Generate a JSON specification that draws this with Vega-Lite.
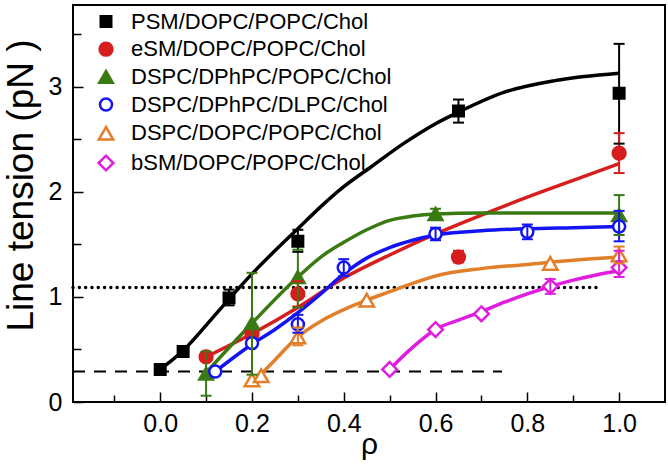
{
  "$schema": "https://vega.github.io/schema/vega-lite/v6.json",
  "width": 592,
  "height": 397,
  "autosize": {"type": "none"},
  "padding": {"left": 73, "top": 5, "right": 3, "bottom": 64},
  "background": "white",
  "config": {
    "font": "Liberation Sans",
    "view": {"stroke": "black", "strokeWidth": 2},
    "axis": {"domain": false, "grid": false, "tickColor": "black", "labelColor": "black", "titleColor": "black", "labelFont": "Liberation Sans", "titleFont": "Liberation Sans", "titleFontWeight": "normal"},
    "legend": {"labelFont": "Liberation Sans", "labelFontSize": 22, "labelColor": "black", "rowPadding": 4.7, "symbolStrokeWidth": 2.5, "labelOffset": 14, "padding": 0, "labelLimit": 400}
  },
  "datasets": {
    "pts": [
      {"s": "PSM/DOPC/POPC/Chol", "x": 0.0, "y": 0.31},
      {"s": "PSM/DOPC/POPC/Chol", "x": 0.05, "y": 0.48},
      {"s": "PSM/DOPC/POPC/Chol", "x": 0.15, "y": 0.99, "lo": 0.92, "hi": 1.07},
      {"s": "PSM/DOPC/POPC/Chol", "x": 0.3, "y": 1.53, "lo": 1.43, "hi": 1.64},
      {"s": "PSM/DOPC/POPC/Chol", "x": 0.65, "y": 2.77, "lo": 2.66, "hi": 2.88},
      {"s": "PSM/DOPC/POPC/Chol", "x": 1.0, "y": 2.94, "lo": 2.46, "hi": 3.41},
      {"s": "eSM/DOPC/POPC/Chol", "x": 0.1, "y": 0.43, "lo": 0.39, "hi": 0.47},
      {"s": "eSM/DOPC/POPC/Chol", "x": 0.2, "y": 0.65},
      {"s": "eSM/DOPC/POPC/Chol", "x": 0.3, "y": 1.03, "lo": 0.91, "hi": 1.15},
      {"s": "eSM/DOPC/POPC/Chol", "x": 0.65, "y": 1.38, "lo": 1.33, "hi": 1.44},
      {"s": "eSM/DOPC/POPC/Chol", "x": 1.0, "y": 2.37, "lo": 2.18, "hi": 2.56},
      {"s": "DSPC/DPhPC/POPC/Chol", "x": 0.1, "y": 0.27, "lo": 0.06, "hi": 0.48},
      {"s": "DSPC/DPhPC/POPC/Chol", "x": 0.2, "y": 0.75, "lo": 0.26, "hi": 1.23},
      {"s": "DSPC/DPhPC/POPC/Chol", "x": 0.3, "y": 1.19, "lo": 0.9, "hi": 1.45},
      {"s": "DSPC/DPhPC/POPC/Chol", "x": 0.6, "y": 1.79, "lo": 1.74, "hi": 1.84},
      {"s": "DSPC/DPhPC/POPC/Chol", "x": 1.0, "y": 1.78, "lo": 1.59, "hi": 1.97},
      {"s": "DSPC/DPhPC/DLPC/Chol", "x": 0.12, "y": 0.29},
      {"s": "DSPC/DPhPC/DLPC/Chol", "x": 0.2, "y": 0.56},
      {"s": "DSPC/DPhPC/DLPC/Chol", "x": 0.3, "y": 0.74, "lo": 0.66, "hi": 0.83},
      {"s": "DSPC/DPhPC/DLPC/Chol", "x": 0.4, "y": 1.28, "lo": 1.2, "hi": 1.36},
      {"s": "DSPC/DPhPC/DLPC/Chol", "x": 0.6, "y": 1.6, "lo": 1.54, "hi": 1.66},
      {"s": "DSPC/DPhPC/DLPC/Chol", "x": 0.8, "y": 1.62, "lo": 1.55, "hi": 1.69},
      {"s": "DSPC/DPhPC/DLPC/Chol", "x": 1.0, "y": 1.67, "lo": 1.53, "hi": 1.82},
      {"s": "DSPC/DOPC/POPC/Chol", "x": 0.2, "y": 0.21},
      {"s": "DSPC/DOPC/POPC/Chol", "x": 0.22, "y": 0.25},
      {"s": "DSPC/DOPC/POPC/Chol", "x": 0.3, "y": 0.62, "lo": 0.54, "hi": 0.71},
      {"s": "DSPC/DOPC/POPC/Chol", "x": 0.45, "y": 0.97},
      {"s": "DSPC/DOPC/POPC/Chol", "x": 0.85, "y": 1.32},
      {"s": "DSPC/DOPC/POPC/Chol", "x": 1.0, "y": 1.4, "lo": 1.32, "hi": 1.48},
      {"s": "bSM/DOPC/POPC/Chol", "x": 0.5, "y": 0.31},
      {"s": "bSM/DOPC/POPC/Chol", "x": 0.6, "y": 0.69},
      {"s": "bSM/DOPC/POPC/Chol", "x": 0.7, "y": 0.84},
      {"s": "bSM/DOPC/POPC/Chol", "x": 0.85, "y": 1.1, "lo": 1.03, "hi": 1.17},
      {"s": "bSM/DOPC/POPC/Chol", "x": 1.0, "y": 1.28, "lo": 1.19, "hi": 1.44}
    ],
    "curves": [
      {"s": "PSM/DOPC/POPC/Chol", "x": 0.0, "y": 0.31},
      {"s": "PSM/DOPC/POPC/Chol", "x": 0.05, "y": 0.49},
      {"s": "PSM/DOPC/POPC/Chol", "x": 0.1, "y": 0.73},
      {"s": "PSM/DOPC/POPC/Chol", "x": 0.15, "y": 0.98},
      {"s": "PSM/DOPC/POPC/Chol", "x": 0.2, "y": 1.22},
      {"s": "PSM/DOPC/POPC/Chol", "x": 0.25, "y": 1.44},
      {"s": "PSM/DOPC/POPC/Chol", "x": 0.3, "y": 1.65},
      {"s": "PSM/DOPC/POPC/Chol", "x": 0.35, "y": 1.86},
      {"s": "PSM/DOPC/POPC/Chol", "x": 0.4, "y": 2.05},
      {"s": "PSM/DOPC/POPC/Chol", "x": 0.46, "y": 2.24},
      {"s": "PSM/DOPC/POPC/Chol", "x": 0.53, "y": 2.46},
      {"s": "PSM/DOPC/POPC/Chol", "x": 0.6, "y": 2.65},
      {"s": "PSM/DOPC/POPC/Chol", "x": 0.65, "y": 2.76},
      {"s": "PSM/DOPC/POPC/Chol", "x": 0.75, "y": 2.95},
      {"s": "PSM/DOPC/POPC/Chol", "x": 0.86, "y": 3.06},
      {"s": "PSM/DOPC/POPC/Chol", "x": 1.0, "y": 3.13},
      {"s": "eSM/DOPC/POPC/Chol", "x": 0.1, "y": 0.43},
      {"s": "eSM/DOPC/POPC/Chol", "x": 0.2, "y": 0.65},
      {"s": "eSM/DOPC/POPC/Chol", "x": 0.3, "y": 0.9},
      {"s": "eSM/DOPC/POPC/Chol", "x": 0.4, "y": 1.18},
      {"s": "eSM/DOPC/POPC/Chol", "x": 0.5, "y": 1.4},
      {"s": "eSM/DOPC/POPC/Chol", "x": 0.6, "y": 1.6},
      {"s": "eSM/DOPC/POPC/Chol", "x": 0.7, "y": 1.78},
      {"s": "eSM/DOPC/POPC/Chol", "x": 0.8, "y": 1.95},
      {"s": "eSM/DOPC/POPC/Chol", "x": 0.9, "y": 2.11},
      {"s": "eSM/DOPC/POPC/Chol", "x": 1.0, "y": 2.27},
      {"s": "DSPC/DPhPC/POPC/Chol", "x": 0.1, "y": 0.28},
      {"s": "DSPC/DPhPC/POPC/Chol", "x": 0.2, "y": 0.75},
      {"s": "DSPC/DPhPC/POPC/Chol", "x": 0.3, "y": 1.19},
      {"s": "DSPC/DPhPC/POPC/Chol", "x": 0.35, "y": 1.38},
      {"s": "DSPC/DPhPC/POPC/Chol", "x": 0.4, "y": 1.52},
      {"s": "DSPC/DPhPC/POPC/Chol", "x": 0.45, "y": 1.64},
      {"s": "DSPC/DPhPC/POPC/Chol", "x": 0.5, "y": 1.73},
      {"s": "DSPC/DPhPC/POPC/Chol", "x": 0.55, "y": 1.77},
      {"s": "DSPC/DPhPC/POPC/Chol", "x": 0.6, "y": 1.79},
      {"s": "DSPC/DPhPC/POPC/Chol", "x": 0.7, "y": 1.8},
      {"s": "DSPC/DPhPC/POPC/Chol", "x": 0.8, "y": 1.8},
      {"s": "DSPC/DPhPC/POPC/Chol", "x": 1.0, "y": 1.8},
      {"s": "DSPC/DPhPC/DLPC/Chol", "x": 0.12, "y": 0.29},
      {"s": "DSPC/DPhPC/DLPC/Chol", "x": 0.2, "y": 0.55},
      {"s": "DSPC/DPhPC/DLPC/Chol", "x": 0.25, "y": 0.69},
      {"s": "DSPC/DPhPC/DLPC/Chol", "x": 0.3, "y": 0.85},
      {"s": "DSPC/DPhPC/DLPC/Chol", "x": 0.35, "y": 1.03},
      {"s": "DSPC/DPhPC/DLPC/Chol", "x": 0.4, "y": 1.22},
      {"s": "DSPC/DPhPC/DLPC/Chol", "x": 0.45, "y": 1.37},
      {"s": "DSPC/DPhPC/DLPC/Chol", "x": 0.5, "y": 1.47},
      {"s": "DSPC/DPhPC/DLPC/Chol", "x": 0.55, "y": 1.54},
      {"s": "DSPC/DPhPC/DLPC/Chol", "x": 0.6, "y": 1.59},
      {"s": "DSPC/DPhPC/DLPC/Chol", "x": 0.7, "y": 1.63},
      {"s": "DSPC/DPhPC/DLPC/Chol", "x": 0.8, "y": 1.65},
      {"s": "DSPC/DPhPC/DLPC/Chol", "x": 0.9, "y": 1.66},
      {"s": "DSPC/DPhPC/DLPC/Chol", "x": 1.0, "y": 1.67},
      {"s": "DSPC/DOPC/POPC/Chol", "x": 0.215, "y": 0.24},
      {"s": "DSPC/DOPC/POPC/Chol", "x": 0.25, "y": 0.4},
      {"s": "DSPC/DOPC/POPC/Chol", "x": 0.3, "y": 0.62},
      {"s": "DSPC/DOPC/POPC/Chol", "x": 0.35, "y": 0.77},
      {"s": "DSPC/DOPC/POPC/Chol", "x": 0.4, "y": 0.88},
      {"s": "DSPC/DOPC/POPC/Chol", "x": 0.45, "y": 0.97},
      {"s": "DSPC/DOPC/POPC/Chol", "x": 0.5, "y": 1.05},
      {"s": "DSPC/DOPC/POPC/Chol", "x": 0.55, "y": 1.13},
      {"s": "DSPC/DOPC/POPC/Chol", "x": 0.6, "y": 1.2},
      {"s": "DSPC/DOPC/POPC/Chol", "x": 0.7, "y": 1.27},
      {"s": "DSPC/DOPC/POPC/Chol", "x": 0.8, "y": 1.31},
      {"s": "DSPC/DOPC/POPC/Chol", "x": 0.9, "y": 1.35},
      {"s": "DSPC/DOPC/POPC/Chol", "x": 1.0, "y": 1.38},
      {"s": "bSM/DOPC/POPC/Chol", "x": 0.5, "y": 0.31},
      {"s": "bSM/DOPC/POPC/Chol", "x": 0.55, "y": 0.52},
      {"s": "bSM/DOPC/POPC/Chol", "x": 0.6, "y": 0.69},
      {"s": "bSM/DOPC/POPC/Chol", "x": 0.65, "y": 0.78},
      {"s": "bSM/DOPC/POPC/Chol", "x": 0.7, "y": 0.86},
      {"s": "bSM/DOPC/POPC/Chol", "x": 0.75, "y": 0.95},
      {"s": "bSM/DOPC/POPC/Chol", "x": 0.8, "y": 1.03},
      {"s": "bSM/DOPC/POPC/Chol", "x": 0.85, "y": 1.1},
      {"s": "bSM/DOPC/POPC/Chol", "x": 0.9, "y": 1.16},
      {"s": "bSM/DOPC/POPC/Chol", "x": 0.95, "y": 1.21},
      {"s": "bSM/DOPC/POPC/Chol", "x": 1.0, "y": 1.25}
    ],
    "refs": [
      {"k": "dotted", "x": -0.19, "x2": 0.955, "y": 1.09},
      {"k": "dashed", "x": -0.19, "x2": 0.745, "y": 0.29}
    ]
  },
  "resolve": {"axis": {"x": "independent", "y": "independent"}},
  "layer": [
    {
      "data": {"name": "refs"},
      "transform": [{"filter": "datum.k == 'dotted'"}],
      "mark": {"type": "rule", "color": "black", "strokeWidth": 3.4, "strokeCap": "round", "strokeDash": [0.1, 6.2]},
      "encoding": {
        "x": {"field": "x", "type": "quantitative", "scale": {"domain": [-0.19, 1.1], "nice": false, "zero": false},
          "axis": {"orient": "bottom", "values": [0, 0.2, 0.4, 0.6, 0.8, 1.0], "format": ".1f", "tickSize": -10, "tickWidth": 1.5, "labelPadding": 19, "labelFontSize": 25, "title": "ρ", "titleFontSize": 30, "titlePadding": -7}},
        "x2": {"field": "x2"},
        "y": {"field": "y", "type": "quantitative", "scale": {"domain": [0, 3.78], "nice": false, "zero": false},
          "axis": {"orient": "left", "values": [0, 1, 2, 3], "format": "d", "tickSize": -10, "tickWidth": 1.5, "labelPadding": 21, "labelFontSize": 25, "title": "Line tension (pN )", "titleFontSize": 37, "titlePadding": 8, "titleY": 180}}
      }
    },
    {
      "data": {"name": "refs"},
      "transform": [{"filter": "datum.k == 'dashed'"}],
      "mark": {"type": "rule", "color": "black", "strokeWidth": 2, "strokeDash": [12, 9]},
      "encoding": {
        "x": {"field": "x", "type": "quantitative", "scale": {"domain": [-0.19, 1.1], "nice": false, "zero": false},
          "axis": {"orient": "bottom", "values": [-0.1, 0.1, 0.3, 0.5, 0.7, 0.9], "tickSize": -7, "tickWidth": 1.5, "labels": false, "title": null}},
        "x2": {"field": "x2"},
        "y": {"field": "y", "type": "quantitative", "scale": {"domain": [0, 3.78], "nice": false, "zero": false},
          "axis": {"orient": "left", "values": [0.5, 1.5, 2.5, 3.5], "tickSize": -8, "tickWidth": 1.5, "labels": false, "title": null}}
      }
    },
    {
      "data": {"name": "curves"},
      "mark": {"type": "line", "strokeWidth": 3.5, "interpolate": "monotone"},
      "encoding": {
        "x": {"field": "x", "type": "quantitative", "axis": null},
        "y": {"field": "y", "type": "quantitative", "axis": null},
        "detail": {"field": "s"},
        "stroke": {"field": "s", "type": "nominal"}
      }
    },
    {
      "data": {"name": "pts"},
      "mark": {"type": "point", "strokeWidth": 2.5, "opacity": 1, "fillOpacity": 1},
      "encoding": {
        "x": {"field": "x", "type": "quantitative", "axis": null},
        "y": {"field": "y", "type": "quantitative", "axis": null},
        "fill": {"field": "s", "type": "nominal",
          "legend": {"title": null, "orient": "none", "legendX": 22, "legendY": 5.5},
          "scale": {"domain": ["PSM/DOPC/POPC/Chol", "eSM/DOPC/POPC/Chol", "DSPC/DPhPC/POPC/Chol", "DSPC/DPhPC/DLPC/Chol", "DSPC/DOPC/POPC/Chol", "bSM/DOPC/POPC/Chol"],
            "range": ["#000000", "#D61E1E", "#3A7A12", "#FFFFFF", "#FFFFFF", "#FFFFFF"]}},
        "stroke": {"field": "s", "type": "nominal",
          "legend": {"title": null, "orient": "none", "legendX": 22, "legendY": 5.5},
          "scale": {"domain": ["PSM/DOPC/POPC/Chol", "eSM/DOPC/POPC/Chol", "DSPC/DPhPC/POPC/Chol", "DSPC/DPhPC/DLPC/Chol", "DSPC/DOPC/POPC/Chol", "bSM/DOPC/POPC/Chol"],
            "range": ["#000000", "#D61E1E", "#3A7A12", "#1414F2", "#E27F2A", "#E01CE0"]}},
        "shape": {"field": "s", "type": "nominal",
          "legend": {"title": null, "orient": "none", "legendX": 22, "legendY": 5.5},
          "scale": {"domain": ["PSM/DOPC/POPC/Chol", "eSM/DOPC/POPC/Chol", "DSPC/DPhPC/POPC/Chol", "DSPC/DPhPC/DLPC/Chol", "DSPC/DOPC/POPC/Chol", "bSM/DOPC/POPC/Chol"],
            "range": ["square", "circle", "triangle-up", "circle", "triangle-up", "diamond"]}},
        "size": {"field": "s", "type": "nominal",
          "legend": {"title": null, "orient": "none", "legendX": 22, "legendY": 5.5},
          "scale": {"type": "ordinal", "domain": ["PSM/DOPC/POPC/Chol", "eSM/DOPC/POPC/Chol", "DSPC/DPhPC/POPC/Chol", "DSPC/DPhPC/DLPC/Chol", "DSPC/DOPC/POPC/Chol", "bSM/DOPC/POPC/Chol"],
            "range": [110, 165, 185, 145, 210, 215]}}
      }
    },
    {
      "data": {"name": "pts"},
      "transform": [{"filter": "isValid(datum.lo)"}],
      "mark": {"type": "rule", "strokeWidth": 2},
      "encoding": {
        "x": {"field": "x", "type": "quantitative", "axis": null},
        "y": {"field": "lo", "type": "quantitative", "axis": null},
        "y2": {"field": "hi"},
        "stroke": {"field": "s", "type": "nominal"}
      }
    },
    {
      "data": {"name": "pts"},
      "transform": [{"filter": "isValid(datum.lo)"}],
      "mark": {"type": "point", "shape": "stroke", "size": 121, "strokeWidth": 2, "opacity": 1},
      "encoding": {
        "x": {"field": "x", "type": "quantitative", "axis": null},
        "y": {"field": "lo", "type": "quantitative", "axis": null},
        "stroke": {"field": "s", "type": "nominal"}
      }
    },
    {
      "data": {"name": "pts"},
      "transform": [{"filter": "isValid(datum.lo)"}],
      "mark": {"type": "point", "shape": "stroke", "size": 121, "strokeWidth": 2, "opacity": 1},
      "encoding": {
        "x": {"field": "x", "type": "quantitative", "axis": null},
        "y": {"field": "hi", "type": "quantitative", "axis": null},
        "stroke": {"field": "s", "type": "nominal"}
      }
    }
  ]
}
